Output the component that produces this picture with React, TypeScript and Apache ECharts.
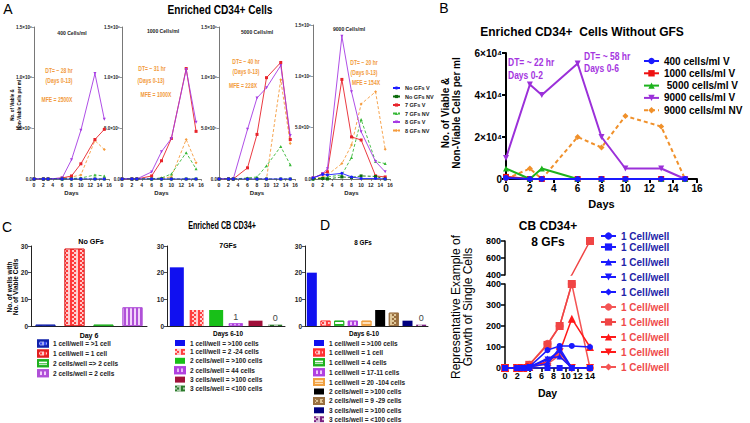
import React, { useEffect, useRef } from "react";
import * as echarts from "echarts";

// ---------------- Panel A data (cells/ml, in millions) ----------------
const daysA = [0, 2, 3, 6, 8, 10, 13, 15];
const aTitles = ["400 Cells/ml", "1000 Cells/ml", "5000 Cells/ml", "9000 Cells/ml"];
const aDT = ["DT= ~ 28 hr", "DT= ~ 31 hr", "DT= ~ 40 hr", "DT= ~ 20 hr"];
const aDays = ["(Days 0-13)", "(Days 0-13)", "(Days 0-13)", "(Days 0-13)"];
const aMFE = ["MFE = 2500X", "MFE = 1000X", "MFE = 228X", "MFE = 154X"];
const aYTickLabels = ["0.0", "5.0×10⁵", "1.0×10⁶", "1.5×10⁶"];
const aNoGfV = [
  [0, 0, 0, 0, 0, 0, 0, 0],
  [0, 0, 0, 0, 0, 0, 0, 0],
  [0, 0, 0, 0, 0, 0, 0, 0],
  [0.01, 0.045, 0.04, 0.055, 0.02, 0.005, 0.005, 0],
];
const aNoGfNV = [
  [0, 0, 0, 0, 0, 0, 0, 0],
  [0, 0, 0, 0, 0, 0, 0, 0],
  [0, 0, 0, 0, 0, 0, 0, 0],
  [0, 0.005, 0, 0.02, 0.015, 0.03, 0.025, 0],
];
const aGf7V = [
  [0, 0, 0, 0.01, 0.03, 0.15, 0.39, 0.49],
  [0, 0, 0, 0.03, 0.18, 0.4, 1.09, 0.47],
  [0, 0, 0, 0.11, 0.44, 1.0, 1.15, 0.39],
  [0.01, 0.05, 0.07, 0.97, 0.41, 0.38, 0.03, 0.02],
];
const aGf7NV = [
  [0, 0, 0, 0, 0.005, 0.01, 0.04, 0.03],
  [0, 0, 0, 0, 0.01, 0.05, 0.26, 0.1],
  [0, 0, 0, 0.01, 0.02, 0.13, 0.32, 0.14],
  [0, 0.01, 0.02, 0.04, 0.21, 0.58, 0.17, 0.15],
];
const aGf8V = [
  [0, 0, 0, 0.01, 0.19, 0.48, 1.04, 0.59],
  [0, 0, 0, 0.07, 0.27, 0.4, 1.08, 0.56],
  [0, 0, 0, 0.49, 0.8, 0.9, 1.12, 0.43],
  [0.01, 0.05, 0.1, 1.39, 0.85, 0.46, 0.17, 0.07],
];
const aGf8NV = [
  [0, 0, 0, 0.005, 0.02, 0.04, 0.38, 0.29],
  [0, 0, 0, 0, 0.01, 0.02, 0.39, 0.16],
  [0, 0, 0, 0, 0, 0, 0.98, 0.35],
  [0, 0.02, 0.04, 0.15, 0.33, 0.73, 0.85, 0.29],
];

// ---------------- Panel B data (cells/ml) ----------------
const daysB = [0, 2, 3, 6, 8, 10, 13, 15];
const bYTickLabels = ["0", "2×10⁴", "4×10⁴", "6×10⁴"];
const b400V = [500, 0, 0, 0, 0, 0, 0, 0];
const b1000V = [1000, 0, 0, 0, 0, 0, 0, 0];
const b5000V = [5000, 0, 5000, 0, 0, 0, 0, 0];
const b9000V = [10000, 45000, 40000, 55000, 20000, 5000, 5000, 0];
const b9000NV = [0, 5000, 0, 20000, 15000, 30000, 25000, 0];

// ---------------- Panel C data (no. of wells) ----------------
const c1Names = ["1 cell/well = >1 cell", "1 cell/well = 1 cell", "2 cells/well => 2 cells", "2 cells/well = 2 cells"];
const c1Values = [0.5, 29, 0.5, 7];
const c1Labels = ["", "", "", ""];
const c2Names = [
  "1 cell/well = >100 cells",
  "1 cell/well = 2 -24 cells",
  "2 cells/well = >100 cells",
  "2 cells/well = 44 cells",
  "3 cells/well = >100 cells",
  "3 cells/well = <100 cells",
];
const c2Values = [22, 6, 6, 1, 2, 0.5];
const c2Labels = ["", "", "", "1", "", "0"];
const c3Names = [
  "1 cell/well = >100 cells",
  "1 cell/well = 1 cell",
  "1 cell/well = 4 cells",
  "1 cell/well = 17-11 cells",
  "1 cell/well = 20 -104 cells",
  "2 cells/well = >100 cells",
  "2 cells/well = 9 -29 cells",
  "3 cells/well = >100 cells",
  "3 cells/well = <100 cells",
];
const c3Values = [20, 2, 2, 2, 2, 6, 5, 2, 0.5];
const c3Labels = ["", "", "", "", "", "", "", "", "0"];

// ---------------- Panel D data (cells) ----------------
const daysD = [0, 2, 3, 4, 7, 9, 11, 14];
const dLegendText = "1 Cell/well";
const dBlue = [
  [0, 0, 0, 5, 85, 105, 105, 100],
  [0, 0, 0, 0, 0, 0, 0, 0],
  [0, 0, 0, 5, 45, 55, 0, 0],
  [0, 0, 0, 5, 40, 80, 0, 0],
  [0, 0, 0, 5, 20, 95, 0, 0],
];
const dRed = [
  [0, 0, 0, 15, 115, 200, 400, 0],
  [0, 0, 0, 15, 110, 200, 400, 800],
  [0, 0, 0, 5, 30, 75, 235, 100],
  [0, 0, 0, 5, 25, 75, 0, 0],
  [0, 0, 0, 5, 20, 60, 0, 0],
];

// ---------------- styles ----------------
const F = "'Liberation Sans', Arial, Helvetica, sans-serif";
const FN = "'Liberation Sans Narrow', 'Arial Narrow', 'Liberation Sans', Arial, sans-serif";
const COL = {
  blue: "#1e1eff",
  dgreen: "#0b6b0b",
  red: "#e8242b",
  green: "#38b838",
  purple: "#a63be3",
  orange: "#f59b3d",
};

const checker = (color: string) => ({
  symbol: "rect",
  symbolSize: 1,
  dashArrayX: [[1.5, 1.5], [0, 1.5, 1.5]],
  dashArrayY: [1.5, 0],
  color,
});
const hstripe = (color: string) => ({ symbol: "rect", symbolSize: 1, dashArrayX: [1, 0], dashArrayY: [1, 1.5], color });
const vstripe = (color: string) => ({ symbol: "rect", symbolSize: 1, dashArrayX: [1.2, 1.5], dashArrayY: [1, 0], color });

const c1Styles = [
  { color: "#3344ee", borderColor: "#1122aa", borderWidth: 0.8, decal: checker("rgba(255,255,255,0.55)") },
  { color: "#ff3a3a", borderColor: "#e02020", borderWidth: 0.8, decal: checker("rgba(255,255,255,0.75)") },
  { color: "#ffffff", borderColor: "#1fb01f", borderWidth: 0.8, decal: hstripe("#1fb01f") },
  { color: "#f3d2fb", borderColor: "#b050d8", borderWidth: 0.8, decal: vstripe("#b050d8") },
];
const c2Styles = [
  { color: "#1010f0" },
  { color: "#ff4040", decal: checker("rgba(255,255,255,0.75)") },
  { color: "#18c018" },
  { color: "#e8b8f8", borderColor: "#b040e0", borderWidth: 0.6, decal: vstripe("#b040e0") },
  { color: "#a0103a" },
  { color: "#2a7a2a", decal: checker("rgba(255,255,255,0.6)") },
];
const c3Styles = [
  { color: "#1010f0" },
  { color: "#ff4040", borderColor: "#ff3030", borderWidth: 0.6, decal: checker("rgba(255,255,255,0.75)") },
  { color: "#ffffff", borderColor: "#1fb01f", borderWidth: 0.8, decal: hstripe("#1fb01f") },
  { color: "#f0c8fa", borderColor: "#b040e0", borderWidth: 0.8, decal: vstripe("#b040e0") },
  { color: "#ffe0b8", borderColor: "#f0a040", borderWidth: 0.8, decal: hstripe("#f0a040") },
  { color: "#000000" },
  { color: "#e0c89a", borderColor: "#9a7040", borderWidth: 0.8, decal: checker("#9a7040") },
  { color: "#000080" },
  { color: "#7a2080", decal: checker("rgba(255,255,255,0.7)") },
];

const aGroups = [
  { name: "No GFs V", data: aNoGfV, color: COL.blue, symbol: "circle", rot: 0, dash: false, z: 8 },
  { name: "No GFs NV", data: aNoGfNV, color: COL.dgreen, symbol: "rect", rot: 0, dash: true, z: 7 },
  { name: "7 GFs V", data: aGf7V, color: COL.red, symbol: "rect", rot: 0, dash: false, z: 5 },
  { name: "7 GFs NV", data: aGf7NV, color: COL.green, symbol: "triangle", rot: 0, dash: true, z: 4 },
  { name: "8 GFs V", data: aGf8V, color: COL.purple, symbol: "triangle", rot: 180, dash: false, z: 6 },
  { name: "8 GFs NV", data: aGf8NV, color: COL.orange, symbol: "diamond", rot: 0, dash: true, z: 3 },
];
const bGroups = [
  { name: "400 cells/ml V", data: b400V, color: "#1a1aff", symbol: "circle", rot: 0, dash: false, z: 9 },
  { name: "1000 cells/ml V", data: b1000V, color: "#ee1111", symbol: "rect", rot: 0, dash: false, z: 6 },
  { name: " 5000 cells/ml V", data: b5000V, color: "#1db31d", symbol: "triangle", rot: 0, dash: false, z: 7 },
  { name: "9000 cells/ml V", data: b9000V, color: "#9b30d9", symbol: "triangle", rot: 180, dash: false, z: 8 },
  { name: "9000 cells/ml NV", data: b9000NV, color: "#f0902a", symbol: "diamond", rot: 0, dash: true, z: 5 },
];
const dSymbols = ["circle", "rect", "triangle", "triangle", "diamond"];
const dRots = [0, 0, 0, 180, 0];

const aGridPos = [
  { left: 34, top: 27, width: 75, height: 152 },
  { left: 122, top: 27, width: 79, height: 152 },
  { left: 219, top: 27, width: 76, height: 152 },
  { left: 313, top: 25, width: 77, height: 154 },
];
const aTitlePos = [[72, 33], [163, 31], [257, 32], [349, 29]];
const aDTPos = [[59, 70], [152, 68], [246, 61], [364, 62]];
const aDaysPos = [[59, 80], [151, 80], [246, 71], [364, 72]];
const aMFEPos = [[57, 99], [156, 94], [243, 85], [366, 82]];

function T(text: string, x: number, y: number, o: any = {}) {
  return {
    type: "text",
    x,
    y,
    scaleX: o.sx ?? 1,
    rotation: o.rot ?? 0,
    silent: true,
    style: {
      text,
      fill: o.color ?? "#000",
      fontSize: o.size ?? 10,
      fontWeight: o.weight ?? "bold",
      fontFamily: o.family ?? F,
      align: o.align ?? "center",
      verticalAlign: "middle",
      lineHeight: o.lh,
    },
  };
}

function buildOption() {
  const grid: any[] = [];
  const xAxis: any[] = [];
  const yAxis: any[] = [];
  const series: any[] = [];

  // ----- Panel A -----
  aGridPos.forEach((g, k) => {
    grid.push({ ...g, containLabel: false });
    xAxis.push({
      gridIndex: k,
      type: "value",
      min: 0,
      max: 16,
      interval: 2,
      name: "Days",
      nameLocation: "middle",
      nameGap: 11,
      nameTextStyle: { fontSize: 6, fontWeight: "bold", fontFamily: FN, color: "#222" },
      axisLine: { lineStyle: { color: "#555", width: 0.8 } },
      axisTick: { length: 2, lineStyle: { color: "#555", width: 0.6 } },
      axisLabel: { fontSize: 5, margin: 3, color: "#222", fontWeight: "bold", fontFamily: FN },
      splitLine: { show: false },
    });
    yAxis.push({
      gridIndex: k,
      type: "value",
      min: 0,
      max: 1.5,
      interval: 0.5,
      axisLine: { show: true, lineStyle: { color: "#555", width: 0.8 } },
      axisTick: { show: true, length: 2, lineStyle: { color: "#555", width: 0.6 } },
      axisLabel: {
        fontSize: 4.5,
        margin: 2,
        color: "#222",
        fontWeight: "bold",
        fontFamily: FN,
        formatter: (v: number) => aYTickLabels[Math.round(v / 0.5)],
      },
      splitLine: { show: false },
    });
    aGroups.forEach((gr) => {
      series.push({
        type: "line",
        name: gr.name,
        xAxisIndex: k,
        yAxisIndex: k,
        data: daysA.map((d, i) => [d, gr.data[k][i]]),
        symbol: gr.symbol,
        symbolRotate: gr.rot,
        symbolSize: 3,
        z: gr.z,
        lineStyle: { width: 0.9, color: gr.color, type: gr.dash ? [3, 2] : "solid" },
        itemStyle: { color: gr.color },
      });
    });
  });

  // ----- Panel B (index 4) -----
  grid.push({ left: 506, top: 53, width: 191, height: 126 });
  xAxis.push({
    gridIndex: 4,
    type: "value",
    min: 0,
    max: 16,
    interval: 2,
    name: "Days",
    nameLocation: "middle",
    nameGap: 19,
    nameTextStyle: { fontSize: 11, fontWeight: "bold", fontFamily: F, color: "#000" },
    axisLine: { lineStyle: { color: "#000", width: 2 } },
    axisTick: { length: 4, lineStyle: { color: "#000", width: 2 } },
    axisLabel: { fontSize: 10, margin: 4, color: "#000", fontWeight: "bold", fontFamily: F },
    splitLine: { show: false },
  });
  yAxis.push({
    gridIndex: 4,
    type: "value",
    min: 0,
    max: 60000,
    interval: 20000,
    axisLine: { show: true, lineStyle: { color: "#000", width: 2 } },
    axisTick: { show: true, length: 4, lineStyle: { color: "#000", width: 2 } },
    axisLabel: {
      fontSize: 10,
      margin: 4,
      color: "#000",
      fontWeight: "bold",
      fontFamily: F,
      formatter: (v: number) => bYTickLabels[Math.round(v / 20000)],
    },
    splitLine: { show: false },
  });
  bGroups.forEach((gr) => {
    series.push({
      type: "line",
      name: gr.name,
      xAxisIndex: 4,
      yAxisIndex: 4,
      data: daysB.map((d, i) => [d, gr.data[i]]),
      symbol: gr.symbol,
      symbolRotate: gr.rot,
      symbolSize: 6,
      z: gr.z,
      lineStyle: { width: 2, color: gr.color, type: gr.dash ? [4, 3] : "solid" },
      itemStyle: { color: gr.color },
    });
  });

  // ----- Panel C (index 5,6,7) -----
  const cPanels = [
    { names: c1Names, values: c1Values, labels: c1Labels, styles: c1Styles, pos: { left: 31, top: 246, width: 116, height: 80 }, bw: 20, suf: "|c1" },
    { names: c2Names, values: c2Values, labels: c2Labels, styles: c2Styles, pos: { left: 167, top: 246, width: 118, height: 80 }, bw: 14, suf: "|c2" },
    { names: c3Names, values: c3Values, labels: c3Labels, styles: c3Styles, pos: { left: 305, top: 246, width: 123, height: 80 }, bw: 10, suf: "|c3" },
  ];
  cPanels.forEach((p, pi) => {
    const gi = 5 + pi;
    grid.push(p.pos);
    xAxis.push({
      gridIndex: gi,
      type: "category",
      data: p.names.map((_, i) => String(i)),
      axisLine: { lineStyle: { color: "#222", width: 1 } },
      axisTick: { show: false },
      axisLabel: { show: false },
    });
    yAxis.push({
      gridIndex: gi,
      type: "value",
      min: 0,
      max: 30,
      interval: 10,
      axisLine: { show: true, lineStyle: { color: "#222", width: 1 } },
      axisTick: { show: true, length: 3, lineStyle: { color: "#222", width: 0.8 } },
      axisLabel: { fontSize: 6.5, margin: 3, color: "#222", fontWeight: "bold", fontFamily: FN },
      splitLine: { show: false },
    });
    p.names.forEach((nm, j) => {
      series.push({
        type: "bar",
        name: nm + p.suf,
        xAxisIndex: gi,
        yAxisIndex: gi,
        barWidth: p.bw,
        barGap: "-100%",
        itemStyle: p.styles[j],
        data: p.values.map((v, i) =>
          i === j
            ? {
                value: v,
                label: p.labels[j]
                  ? { show: true, position: "top", distance: 2, formatter: p.labels[j], fontSize: 9, color: "#444", fontFamily: F }
                  : { show: false },
              }
            : "-"
        ),
      });
    });
  });

  // ----- Panel D (upper index 8, lower index 9) -----
  grid.push({ left: 505, top: 241, width: 85, height: 34 });
  grid.push({ left: 505, top: 284, width: 85, height: 84 });
  const dAxisLine = { show: true, lineStyle: { color: "#000", width: 1.5 } };
  const dTick = { show: true, length: 4, lineStyle: { color: "#000", width: 1.5 } };
  const dLabel = { fontSize: 9, margin: 4, color: "#000", fontWeight: "bold", fontFamily: F };
  xAxis.push({ gridIndex: 8, type: "value", min: 0, max: 14, show: false });
  xAxis.push({
    gridIndex: 9,
    type: "value",
    min: 0,
    max: 14,
    interval: 2,
    name: "Day",
    nameLocation: "middle",
    nameGap: 19,
    nameTextStyle: { fontSize: 10.5, fontWeight: "bold", fontFamily: F, color: "#000" },
    axisLine: dAxisLine,
    axisTick: dTick,
    axisLabel: { ...dLabel, margin: 3 },
    splitLine: { show: false },
  });
  yAxis.push({
    gridIndex: 8,
    type: "value",
    min: 400,
    max: 800,
    interval: 200,
    axisLine: dAxisLine,
    axisTick: dTick,
    axisLabel: dLabel,
    splitLine: { show: false },
  });
  yAxis.push({
    gridIndex: 9,
    type: "value",
    min: 0,
    max: 400,
    interval: 100,
    axisLine: dAxisLine,
    axisTick: dTick,
    axisLabel: dLabel,
    splitLine: { show: false },
  });
  const dRedColors = ["#f45555", "#f04545", "#ff1a1a", "#ff1a1a", "#f45555"];
  dRed.forEach((arr, i) => {
    const base = {
      type: "line",
      name: "D" + (i + 6),
      symbol: dSymbols[i],
      symbolRotate: dRots[i],
      symbolSize: 8,
      lineStyle: { width: 1.5, color: dRedColors[i] },
      itemStyle: { color: dRedColors[i] },
      z: 3,
    };
    series.push({ ...base, xAxisIndex: 9, yAxisIndex: 9, data: daysD.map((d, k) => [d, arr[k]]) });
    if (Math.max(...arr) > 400) {
      series.push({
        ...base,
        xAxisIndex: 8,
        yAxisIndex: 8,
        data: daysD.map((d, k) => ({ value: [d, arr[k]], symbol: arr[k] > 400 ? dSymbols[i] : "none" })),
      });
    }
  });
  dBlue.forEach((arr, i) => {
    series.push({
      type: "line",
      name: "D" + (i + 1),
      xAxisIndex: 9,
      yAxisIndex: 9,
      data: daysD.map((d, k) => [d, arr[k]]),
      symbol: dSymbols[i],
      symbolRotate: dRots[i],
      symbolSize: 6,
      lineStyle: { width: 1.5, color: "#1a1aff" },
      itemStyle: { color: "#1a1aff" },
      z: 4,
    });
  });

  // ----- legends -----
  const strip = (n: string) => n.split("|")[0];
  const cLegend = (left: number, names: string[], suf: string) => ({
    left,
    top: 339.5,
    height: 84,
    orient: "vertical",
    padding: 0,
    icon: "rect",
    itemWidth: 10,
    itemHeight: 6,
    itemGap: 1.9,
    selectedMode: false,
    formatter: strip,
    textStyle: { fontSize: 6.5, lineHeight: 7, fontWeight: "bold", fontFamily: F, color: "#222" },
    data: names.map((n) => n + suf),
  });
  const dLegendStyle = (i: number) => ({
    name: "D" + (i + 1),
    textStyle: { color: i < 5 ? "#2323a8" : "#ef4a4a" },
  });
  const legend: any[] = [
    {
      left: 392,
      top: 85,
      orient: "vertical",
      padding: 0,
      itemWidth: 7,
      itemHeight: 4,
      itemGap: 2.5,
      selectedMode: false,
      textStyle: { fontSize: 5.5, lineHeight: 5.5, fontWeight: "bold", fontFamily: FN, color: "#222" },
      data: aGroups.map((g) => g.name),
    },
    {
      left: 643,
      top: 56,
      orient: "vertical",
      padding: 0,
      itemWidth: 15,
      itemHeight: 8,
      itemGap: 2.3,
      selectedMode: false,
      textStyle: { fontSize: 10, lineHeight: 10, fontWeight: "bold", fontFamily: F, color: "#000" },
      data: bGroups.map((g) => g.name),
    },
    cLegend(37, c1Names, "|c1"),
    cLegend(174, c2Names, "|c2"),
    cLegend(313, c3Names, "|c3"),
    {
      left: 600,
      top: 231,
      orient: "vertical",
      padding: 0,
      itemWidth: 15,
      itemHeight: 9,
      itemGap: 5,
      selectedMode: false,
      formatter: () => dLegendText,
      textStyle: { fontSize: 10, lineHeight: 10, fontWeight: "bold", fontFamily: F },
      data: [dLegendStyle(0)],
    },
    {
      left: 600,
      top: 242,
      height: 180,
      orient: "vertical",
      padding: 0,
      itemWidth: 15,
      itemHeight: 9,
      itemGap: 5,
      selectedMode: false,
      formatter: () => dLegendText,
      textStyle: { fontSize: 10, lineHeight: 10, fontWeight: "bold", fontFamily: F },
      data: [1, 2, 3, 4, 5, 6, 7, 8, 9].map(dLegendStyle),
    },
  ];

  // ----- texts -----
  const orange = "#f29a3c";
  const graphic: any[] = [
    T("A", 8, 9, { size: 14, weight: "normal" }),
    T("Enriched CD34+ Cells", 220, 9, { size: 13, sx: 0.78 }),
    T("No. of Viable &\nNon-Viable Cells per ml", 15, 105, { size: 6, sx: 0.75, rot: Math.PI / 2, lh: 6.5 }),
    ...aTitles.map((t, i) => T(t, aTitlePos[i][0], aTitlePos[i][1], { size: 6, sx: 0.85, color: "#222" })),
    ...aDT.map((t, i) => T(t, aDTPos[i][0], aDTPos[i][1], { size: 7, sx: 0.72, color: orange })),
    ...aDays.map((t, i) => T(t, aDaysPos[i][0], aDaysPos[i][1], { size: 7, sx: 0.72, color: orange })),
    ...aMFE.map((t, i) => T(t, aMFEPos[i][0], aMFEPos[i][1], { size: 7, sx: 0.72, color: orange })),

    T("B", 444, 8, { size: 14, weight: "normal" }),
    T("Enriched CD34+  Cells Without GFS", 582, 32, { size: 12 }),
    T("No. of Viable &\nNon-Viable Cells per ml", 451, 113, { size: 10, rot: Math.PI / 2, lh: 11.5 }),
    T("DT= ~ 22 hr", 508, 63, { size: 10, sx: 0.85, align: "left", color: "#a535e0" }),
    T("Days 0-2", 508, 76, { size: 10, sx: 0.85, align: "left", color: "#a535e0" }),
    T("DT= ~ 58 hr", 584, 57, { size: 10, sx: 0.85, align: "left", color: "#a535e0" }),
    T("Days 0-6", 584, 69, { size: 10, sx: 0.85, align: "left", color: "#a535e0" }),

    T("C", 7, 227, { size: 14, weight: "normal" }),
    T("Enriched CB CD34+", 222, 226, { size: 10, sx: 0.72 }),
    T("No. of wells with\nNo. of Viable Cells", 12.5, 287, { size: 6.5, rot: Math.PI / 2, lh: 6.8 }),
    T("No GFs", 91, 241, { size: 8, sx: 0.9 }),
    T("7GFs", 228, 245, { size: 7 }),
    T("8 GFs", 363, 242, { size: 7, sx: 0.9 }),
    T("Day 6", 89, 335, { size: 7 }),
    T("Days 6-10", 228, 333, { size: 7, sx: 0.92 }),
    T("Days 6-10", 364, 333, { size: 7, sx: 0.92 }),

    T("D", 325, 225, { size: 14, weight: "normal" }),
    T("CB CD34+", 548, 226, { size: 12 }),
    T("8 GFs", 548, 242, { size: 12 }),
    T("Representative Example of\nGrowth of Single Cells", 462, 307, { size: 12, weight: "normal", rot: Math.PI / 2, lh: 12.5 }),
  ];

  return {
    animation: false,
    backgroundColor: "#ffffff",
    grid,
    xAxis,
    yAxis,
    series,
    legend,
    graphic,
  };
}

export default function App() {
  const ref = useRef<HTMLDivElement>(null);
  useEffect(() => {
    document.body.style.margin = "0";
    const chart = echarts.init(ref.current!, undefined, { renderer: "svg", width: 750, height: 423 });
    chart.setOption(buildOption() as any);
    return () => chart.dispose();
  }, []);
  return <div ref={ref} style={{ width: 750, height: 423, background: "#fff" }} />;
}
